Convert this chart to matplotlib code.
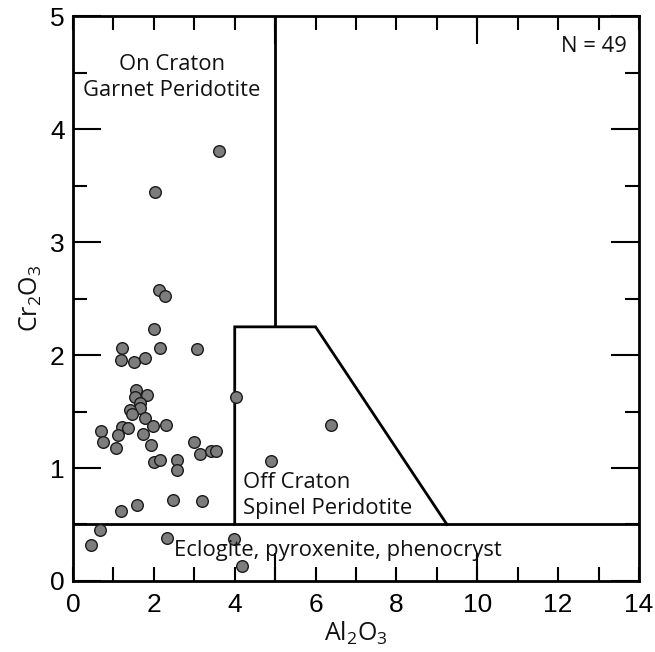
import matplotlib
matplotlib.use('Agg')
import matplotlib.pyplot as plt
import numpy as np

plt.rcParams['mathtext.default'] = 'regular'

# Al2O3 / Cr2O3 (wt%) of the 49 garnets
al2o3 = [2.13, 2.28, 2.00, 1.20, 2.15, 3.06, 1.18, 1.51, 1.78, 1.56,
         1.54, 1.82, 1.66, 1.66, 1.41, 1.46, 1.79, 4.04, 0.69, 1.21,
         1.37, 1.97, 2.30, 0.73, 1.12, 1.72, 1.06, 1.92, 3.00, 3.14,
         3.41, 3.53, 2.00, 2.15, 2.57, 2.57, 4.90, 1.19, 1.58, 2.48,
         3.18, 0.66, 0.45, 2.32, 3.97, 4.18, 3.60, 2.03, 6.39]
cr2o3 = [2.58, 2.52, 2.23, 2.06, 2.06, 2.05, 1.96, 1.94, 1.97, 1.69,
         1.63, 1.65, 1.58, 1.53, 1.51, 1.48, 1.44, 1.63, 1.33, 1.36,
         1.35, 1.37, 1.38, 1.23, 1.29, 1.30, 1.18, 1.20, 1.23, 1.12,
         1.15, 1.15, 1.05, 1.07, 1.07, 0.98, 1.06, 0.62, 0.67, 0.72,
         0.71, 0.45, 0.32, 0.38, 0.37, 0.13, 3.81, 3.44, 1.38]

# field boundaries
garnet_x = [5, 5]
garnet_y = [2.25, 5]
spinel_x = [4, 4, 6, 9.25]
spinel_y = [0.5, 2.25, 2.25, 0.5]
eclogite_y = 0.5

fig = plt.figure(figsize=(6.55, 6.52), dpi=100)
ax = fig.add_axes([0.1115, 0.109, 0.864, 0.866])

lw = 2.0
ax.plot(garnet_x, garnet_y, color='black', lw=lw, solid_capstyle='butt')
ax.plot(spinel_x, spinel_y, color='black', lw=lw, solid_joinstyle='miter')
ax.axhline(eclogite_y, color='black', lw=lw)

ax.scatter(al2o3, cr2o3, s=70, facecolor='#7d7d7d', edgecolor='#1a1a1a',
           linewidth=1.0, zorder=3)

ax.set_xlim(0, 14)
ax.set_ylim(0, 5)

# ticks: short every 1 (x) / 0.5 (y), long at 5, 10 (x) and integers (y)
ax.set_xticks(np.arange(0, 15, 1))
ax.set_xticklabels([str(v) if v % 2 == 0 else '' for v in range(15)])
ax.set_xticks([5, 10], minor=True)
ax.xaxis.remove_overlapping_locs = False
ax.set_yticks(np.arange(0, 6, 1))
ax.set_yticks(np.arange(0.5, 5, 1), minor=True)

ax.tick_params(axis='x', which='major', direction='in', length=10, width=1.5,
               top=True, pad=9)
ax.tick_params(axis='x', which='minor', direction='in', length=20.5, width=1.5,
               top=True)
ax.tick_params(axis='y', which='major', direction='in', length=20.5, width=1.5,
               right=True, pad=6)
ax.tick_params(axis='y', which='minor', direction='in', length=10, width=1.5,
               right=True)
for lab in ax.get_xticklabels() + ax.get_yticklabels():
    lab.set_fontfamily('Liberation Sans')
    lab.set_fontsize(19)

for sp in ax.spines.values():
    sp.set_linewidth(2.0)

txt = dict(family='Open Sans', fontsize=15.8, color='#111111')
lab_font = dict(family='Open Sans', fontsize=18, color='#111111')
ax.set_xlabel('Al$_2$O$_3$', labelpad=2, **lab_font)
ax.set_ylabel('Cr$_2$O$_3$', labelpad=4, **lab_font)

ax.text(2.45, 4.46, 'On Craton\nGarnet Peridotite', ha='center', va='center',
        linespacing=1.3, **txt)
ax.text(4.21, 0.757, 'Off Craton\nSpinel Peridotite', ha='left', va='center',
        linespacing=1.3, **txt)
ax.text(6.56, 0.27, 'Eclogite, pyroxenite, phenocryst', ha='center',
        va='center', **txt)
ax.text(13.71, 4.73, 'N = 49', ha='right', va='center', **txt)

fig.savefig('out.png', dpi=100)
